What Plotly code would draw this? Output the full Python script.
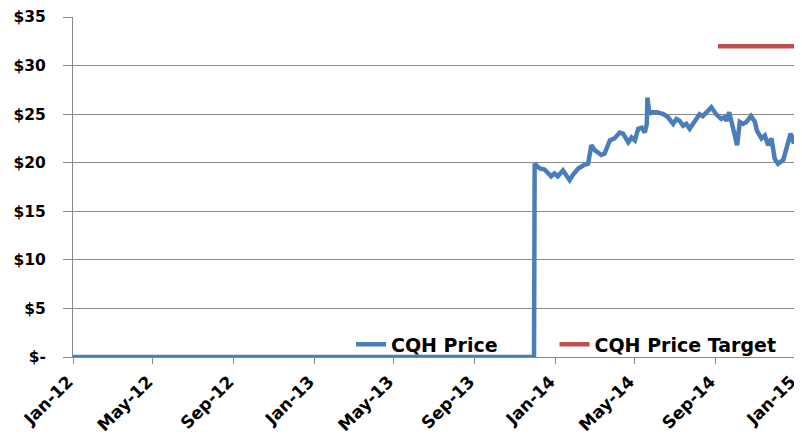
import plotly.graph_objects as go

price_dates = [
    "2012-01-01", "2013-11-30", "2013-12-01", "2013-12-09", "2013-12-16", "2013-12-26",
    "2013-12-31", "2014-01-05", "2014-01-13", "2014-01-18", "2014-01-23", "2014-01-28",
    "2014-02-05", "2014-02-15", "2014-02-20", "2014-02-25", "2014-03-02", "2014-03-12",
    "2014-03-17", "2014-03-25", "2014-04-01", "2014-04-09", "2014-04-14", "2014-04-22",
    "2014-04-27", "2014-05-02", "2014-05-07", "2014-05-12", "2014-05-17", "2014-05-20",
    "2014-05-21", "2014-05-24", "2014-05-27", "2014-06-04", "2014-06-14", "2014-06-21",
    "2014-06-29", "2014-07-04", "2014-07-09", "2014-07-14", "2014-07-19", "2014-07-24",
    "2014-08-01", "2014-08-08", "2014-08-13", "2014-08-18", "2014-08-26", "2014-09-02",
    "2014-09-10", "2014-09-15", "2014-09-18", "2014-09-22", "2014-09-25", "2014-09-30",
    "2014-10-04", "2014-10-08", "2014-10-13", "2014-10-18", "2014-10-25", "2014-10-31",
    "2014-11-03", "2014-11-10", "2014-11-15", "2014-11-20", "2014-11-25", "2014-11-30",
    "2014-12-05", "2014-12-13", "2014-12-18", "2014-12-24", "2014-12-29", "2015-01-01",
]
price_values = [
    0, 0, 19.9, 19.4, 19.3, 18.6,
    18.9, 18.6, 19.2, 18.75, 18.2, 18.75,
    19.4, 19.8, 19.9, 21.8, 21.3, 20.8,
    20.95, 22.3, 22.5, 23.1, 23.0, 22.1,
    22.6, 22.3, 23.5, 23.6, 23.1, 24.0,
    26.7, 25.0, 25.2, 25.2, 25.0, 24.7,
    24.0, 24.5, 24.3, 23.8, 24.0, 23.5,
    24.3, 25.0, 24.8, 25.2, 25.7, 25.0,
    24.5, 24.7, 24.3, 25.2, 24.3, 23.0,
    21.8, 24.2, 24.0, 24.2, 24.8, 24.2,
    23.3, 22.5, 22.8, 21.8, 22.5, 20.4,
    19.9, 20.3, 21.5, 23.0, 22.0, 22.8,
]

target_dates = ["2014-09-05", "2015-01-01"]
target_values = [32, 32]

y_tickvals = [0, 5, 10, 15, 20, 25, 30, 35]
y_ticktext = ["$-", "$5", "$10", "$15", "$20", "$25", "$30", "$35"]

font_family = "'DejaVu Sans', sans-serif"
legend_font = dict(size=19, family=font_family, weight="bold")

fig = go.Figure()
fig.add_trace(go.Scatter(
    x=price_dates, y=price_values, mode="lines", name="CQH Price",
    line=dict(color="#4A7EBB", width=4.5), legend="legend",
))
fig.add_trace(go.Scatter(
    x=target_dates, y=target_values, mode="lines", name="CQH Price Target",
    line=dict(color="#C0504D", width=4.5), legend="legend2",
))

# page body has an 8px margin, so the figure is made 8px smaller and offset
fig.update_layout(
    width=794, height=431,
    margin=dict(l=65, r=6, t=9, b=82, autoexpand=False),
    paper_bgcolor="white", plot_bgcolor="white",
    font=dict(family=font_family, size=16, color="black"),
    showlegend=True,
    legend=dict(
        orientation="h", x=0.3845, y=0.037, xanchor="left", yanchor="middle",
        bgcolor="rgba(0,0,0,0)", font=legend_font,
    ),
    legend2=dict(
        orientation="h", x=0.666, y=0.037, xanchor="left", yanchor="middle",
        bgcolor="rgba(0,0,0,0)", font=legend_font,
    ),
    xaxis=dict(
        type="date", range=["2012-01-01", "2015-01-01 06:00"],
        tick0="2012-01-01", dtick="M4", tickformat="%b-%y",
        tickangle=-45, showgrid=False,
        showline=True, linecolor="#888888", linewidth=1,
        ticks="outside", ticklen=6, tickcolor="#888888",
        tickfont=dict(size=17, family=font_family, weight="bold"),
        ticklabeloverflow="allow", ticklabelshift=-5, ticklabelstandoff=1,
        zeroline=False, automargin=False,
    ),
    yaxis=dict(
        range=[0, 35], tickvals=y_tickvals, ticktext=y_ticktext,
        showgrid=True, gridcolor="#8C8C8C", gridwidth=1,
        showline=True, linecolor="#888888", linewidth=1,
        ticks="outside", ticklen=9, tickcolor="#888888",
        ticklabelstandoff=14,
        tickfont=dict(size=15.5, family=font_family, weight="bold"),
        zeroline=False, automargin=False,
    ),
)

fig.write_html("out.html")
